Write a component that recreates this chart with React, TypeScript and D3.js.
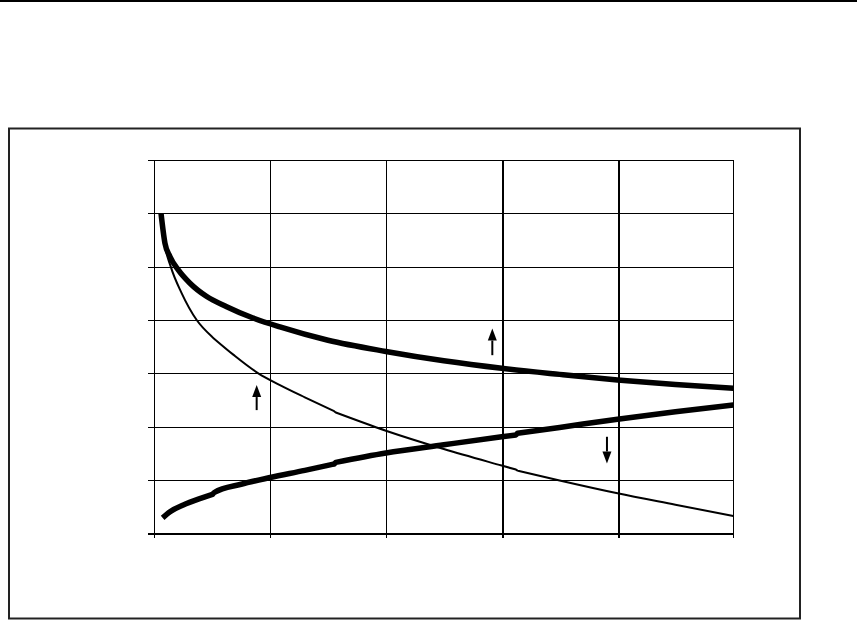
import React from "react";
import * as d3 from "d3";

const xTicks = [0, 1, 2, 3, 4, 5];
const yTicks = [0, 1, 2, 3, 4, 5, 6, 7];

// x positions where the thin and lower curves show a small step
const breaksAt = [0.5, 1.56, 3.13];

const upperX = [0.058, 0.092, 0.135, 0.207, 0.308, 0.453, 0.625, 0.826, 1.085, 1.5, 2.0, 2.5, 3.0, 3.5, 4.0, 4.5, 5.0];
const upperY = [6.0, 5.44, 5.19, 4.94, 4.69, 4.44, 4.25, 4.06, 3.87, 3.62, 3.41, 3.235, 3.094, 2.98, 2.875, 2.79, 2.719];

const thinX = [0.058, 0.092, 0.142, 0.237, 0.366, 0.492, 0.508, 0.682, 0.898, 1.085, 1.3, 1.553, 1.567, 2.0, 2.5, 3.0, 3.123, 3.137, 3.5, 4.0, 4.5, 5.0];
const thinY = [6.0, 5.4, 5.0, 4.5, 4.0, 3.7, 3.665, 3.35, 3.0, 2.78, 2.55, 2.29, 2.265, 1.924, 1.58, 1.27, 1.195, 1.175, 0.99, 0.75, 0.536, 0.324];

const lowerX = [0.072, 0.136, 0.25, 0.38, 0.502, 0.518, 0.75, 1.0, 1.3, 1.553, 1.567, 2.0, 2.5, 3.0, 3.123, 3.137, 3.5, 4.0, 4.5, 5.0];
const lowerY = [0.29, 0.405, 0.53, 0.64, 0.73, 0.765, 0.92, 1.046, 1.18, 1.3, 1.33, 1.506, 1.66, 1.81, 1.845, 1.875, 1.985, 2.14, 2.28, 2.406];

const arrowX = [0.884, 2.919, 3.909];
const arrowFrom = [2.31, 3.34, 1.81];
const arrowTo = [2.78, 3.84, 1.31];

const W = 857;
const H = 620;

type P = [number, number];

export default function App() {
  const x = d3.scaleLinear().domain([0, 5]).range([154.3, 733.3]);
  const y = d3.scaleLinear().domain([0, 7]).range([533.3, 160]);

  const line = d3
    .line<P>()
    .x((d) => x(d[0]))
    .y((d) => y(d[1]))
    .curve(d3.curveMonotoneX);

  const zip = (xs: number[], ys: number[]) => xs.map((v, i) => [v, ys[i]] as P);

  // split a series at the break positions, draw each piece smoothly and
  // join the pieces with a short straight step
  const stepped = (pts: P[]) => {
    const segs: P[][] = [[]];
    let b = 0;
    pts.forEach((p) => {
      if (b < breaksAt.length && p[0] > breaksAt[b]) {
        segs.push([]);
        b++;
      }
      segs[segs.length - 1].push(p);
    });
    return segs
      .filter((s) => s.length)
      .map((s, i) => {
        const d = line(s) || "";
        return i === 0 ? d : d.replace(/^M/, "L");
      })
      .join("");
  };

  const upper = zip(upperX, upperY);
  const thin = zip(thinX, thinY);
  const lower = zip(lowerX, lowerY);

  const x1 = x(5);
  const y0 = y(0);
  const y1 = y(7);

  return (
    <svg
      width={W}
      height={H}
      style={{ position: "absolute", left: 0, top: 0, display: "block", background: "#fff" }}
    >
      <rect x={0} y={0} width={W} height={H} fill="#fff" />
      <line x1={0} x2={W} y1={1} y2={1} stroke="#000" strokeWidth={2} />
      <rect x={9} y={128.5} width={791} height={490} fill="none" stroke="#222" strokeWidth={2} />

      {yTicks.map((t) => {
        const py = Math.round(y(t)) + 0.5;
        return (
          <line
            key={"h" + t}
            x1={148}
            x2={x1}
            y1={py}
            y2={py}
            stroke="#000"
            strokeWidth={t === 0 ? 2 : 1}
            shapeRendering="crispEdges"
          />
        );
      })}
      {xTicks.map((t) => {
        const px = Math.round(x(t)) + 0.5;
        const thick = t === 3 || t === 4;
        return (
          <line
            key={"v" + t}
            x1={px}
            x2={px}
            y1={y1}
            y2={y0 + 5}
            stroke="#000"
            strokeWidth={thick ? 2 : 1}
            shapeRendering="crispEdges"
          />
        );
      })}

      <path d={line(upper) || ""} fill="none" stroke="#000" strokeWidth={5.5} strokeLinejoin="round" />
      <path d={stepped(thin)} fill="none" stroke="#000" strokeWidth={2} strokeLinejoin="round" />
      <path d={stepped(lower)} fill="none" stroke="#000" strokeWidth={5.5} strokeLinejoin="round" />

      {arrowX.map((ax, i) => {
        const px = x(ax);
        const pf = y(arrowFrom[i]);
        const pt = y(arrowTo[i]);
        const dir = pt < pf ? -1 : 1;
        const base = pt - dir * 12;
        return (
          <g key={"a" + i}>
            <line x1={px} x2={px} y1={pf} y2={base} stroke="#000" strokeWidth={2} />
            <polygon points={`${px},${pt} ${px - 4.5},${base} ${px + 4.5},${base}`} fill="#000" />
          </g>
        );
      })}
    </svg>
  );
}
